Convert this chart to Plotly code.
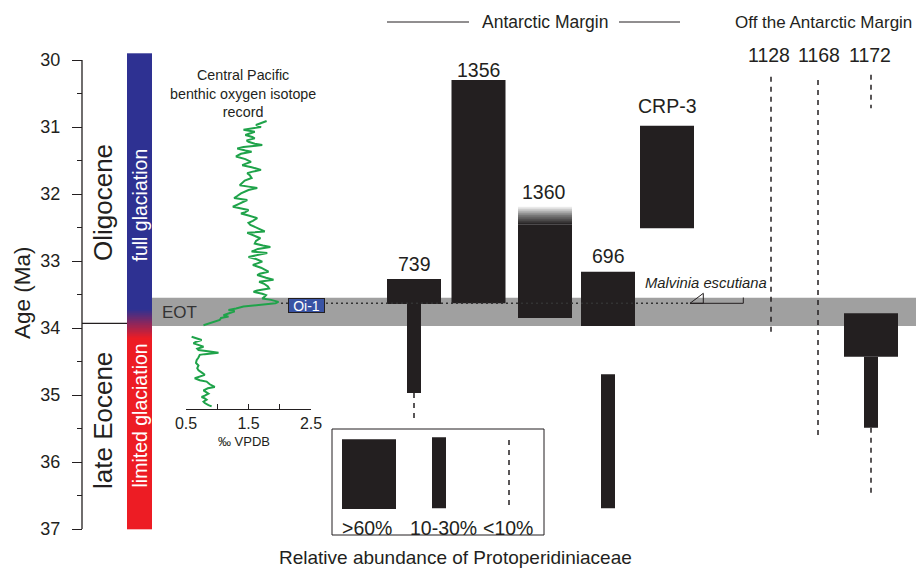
import numpy as np
import plotly.graph_objects as go

# ---------------- DATA ----------------
SITES = ["739", "1356", "1360", "696", "CRP-3", "1128", "1168", "1172"]

# >60% abundance intervals (site, top age, bottom age)
HIGH_SITE = ["739", "1356", "1360", "696", "CRP-3", "1172"]
HIGH_TOP = [33.27, 30.30, 32.46, 33.16, 30.98, 33.78]
HIGH_BOT = [33.64, 33.63, 33.85, 33.97, 32.51, 34.43]

# uncertain (fading) top of site 1360
FADE_SITE = "1360"
FADE_TOP = 32.19
FADE_BOT = 32.46

# 10-30% abundance intervals
MID_SITE = ["739", "696", "1172"]
MID_TOP = [33.64, 34.69, 34.43]
MID_BOT = [34.97, 36.69, 35.49]

# <10% abundance intervals
LOW_SITE = ["739", "1128", "1168", "1172", "1172"]
LOW_TOP = [34.97, 30.25, 30.30, 30.22, 35.49]
LOW_BOT = [35.40, 34.10, 35.60, 30.72, 36.52]

# Central Pacific benthic oxygen isotope record (age Ma, d18O permil VPDB)
ISO_AGE_OLIG = [30.91, 30.93, 30.95, 30.97, 31.00, 31.02, 31.04, 31.07, 31.10, 31.12,
                31.15, 31.17, 31.20, 31.22, 31.25, 31.27, 31.30, 31.32, 31.35, 31.37,
                31.40, 31.44, 31.48, 31.52, 31.55, 31.57, 31.60, 31.62, 31.64, 31.67,
                31.69, 31.72, 31.76, 31.80, 31.84, 31.87, 31.89, 31.91, 31.94, 31.97,
                31.99, 32.03, 32.06, 32.09, 32.12, 32.15, 32.19, 32.22, 32.24, 32.27,
                32.29, 32.32, 32.36, 32.40, 32.43, 32.46, 32.50, 32.53, 32.56, 32.58,
                32.62, 32.66, 32.70, 32.74, 32.77, 32.79, 32.82, 32.86, 32.88, 32.91,
                32.94, 32.97, 33.01, 33.04, 33.06, 33.10, 33.13, 33.16, 33.19, 33.21,
                33.25, 33.28, 33.31, 33.34, 33.38, 33.41, 33.44, 33.46, 33.49, 33.51,
                33.54, 33.56, 33.58, 33.61, 33.63, 33.64, 33.66, 33.68, 33.71, 33.73,
                33.75, 33.77, 33.79, 33.81, 33.83, 33.85, 33.88, 33.91, 33.94, 33.96]
ISO_VAL_OLIG = [1.79, 1.72, 1.68, 1.62, 1.70, 1.55, 1.42, 1.60, 1.50, 1.45,
                1.56, 1.60, 1.47, 1.50, 1.60, 1.72, 1.42, 1.32, 1.45, 1.55,
                1.38, 1.30, 1.45, 1.54, 1.45, 1.40, 1.55, 1.62, 1.70, 1.55,
                1.48, 1.52, 1.55, 1.44, 1.40, 1.36, 1.50, 1.64, 1.50, 1.42,
                1.38, 1.32, 1.27, 1.48, 1.40, 1.34, 1.25, 1.40, 1.50, 1.45,
                1.38, 1.50, 1.64, 1.57, 1.50, 1.53, 1.63, 1.70, 1.76, 1.48,
                1.60, 1.69, 1.62, 1.60, 1.73, 1.85, 1.65, 1.55, 1.80, 1.62,
                1.50, 1.62, 1.72, 1.63, 1.57, 1.70, 1.75, 1.82, 1.68, 1.64,
                1.78, 1.90, 1.67, 1.75, 1.81, 1.83, 1.64, 1.58, 1.72, 1.78,
                1.75, 1.72, 1.86, 1.98, 1.93, 1.80, 1.55, 1.42, 1.30, 1.18,
                1.28, 1.23, 1.15, 1.10, 1.18, 1.06, 1.04, 0.95, 0.85, 0.78]
ISO_AGE_EOC = [34.13, 34.16, 34.18, 34.21, 34.23, 34.26, 34.28, 34.31, 34.33, 34.35,
               34.37, 34.39, 34.40, 34.44, 34.48, 34.52, 34.56, 34.60, 34.63, 34.67,
               34.70, 34.75, 34.78, 34.80, 34.84, 34.88, 34.90, 34.93, 34.96, 34.98,
               35.01, 35.03, 35.05, 35.07, 35.10, 35.12, 35.15, 35.17]
ISO_VAL_EOC = [0.59, 0.70, 0.75, 0.65, 0.62, 0.72, 0.78, 0.68, 0.70, 0.88,
               1.02, 0.80, 0.72, 0.70, 0.67, 0.66, 0.70, 0.68, 0.70, 0.76,
               0.80, 0.64, 0.72, 0.83, 0.88, 0.96, 0.85, 0.78, 0.82, 0.86,
               0.80, 0.75, 0.80, 0.83, 0.78, 0.80, 0.86, 0.91]

AGE_TICKS = [30, 31, 32, 33, 34, 35, 36, 37]
ISO_TICKS = [0.5, 1.0, 1.5, 2.0, 2.5]
ISO_TICK_LABELS = ["0.5", "", "1.5", "", "2.5"]

EOT_TOP, EOT_BOT = 33.55, 33.97          # grey EOT band
EO_BOUNDARY = 33.93                      # Eocene / Oligocene boundary
OI1_AGE = 33.63                          # Oi-1 / Malvinia escutiana level
GLAC_FULL_END, GLAC_LIMITED_START = 33.72, 34.15
GLAC_TOP = 29.90

LEGEND_CLASSES = [">60%", "10-30%", "<10%"]
LEGEND_TOP = [35.66, 35.63, 35.67]
LEGEND_BOT = [36.70, 36.69, 36.69]

# ---------------- LAYOUT CONSTANTS ----------------
W, H = 916, 568
PX_TOP, PX_PER_MA = 60, 67.0


def A(py):
    """convert a vertical page pixel to age units of the y axis"""
    return 30 + (py - PX_TOP) / PX_PER_MA


SITE_X = {"739": 414, "1356": 478.5, "1360": 545, "696": 608, "CRP-3": 667,
          "1128": 771, "1168": 818, "1172": 871}
SITE_LABEL_X = {"739": 414, "1356": 478.5, "1360": 544, "696": 608, "CRP-3": 667,
                "1128": 769, "1168": 819, "1172": 870}
SITE_LABEL_PY = {"739": 264, "1356": 70, "1360": 192, "696": 256, "CRP-3": 106,
                 "1128": 55, "1168": 55, "1172": 55}
LEGEND_X = [369, 439, 509]
LEGEND_LABEL_X = [367, 443, 508]
WIDE, NARROW = 54, 14
INK = "#231f20"
FONT = "Liberation Sans, Arial, sans-serif"

fig = go.Figure()

# colour bar of glaciation state
edges = np.arange(GLAC_TOP, 37.0 + 1e-9, 0.01)
mids = (edges[:-1] + edges[1:]) / 2
span = 37.0 - GLAC_TOP
fig.add_trace(go.Heatmap(
    x=[127, 152], y=edges, z=[[m] for m in mids], zmin=GLAC_TOP, zmax=37.0,
    colorscale=[[0, "#2e3192"], [(GLAC_FULL_END - GLAC_TOP) / span, "#2e3192"],
                [(GLAC_LIMITED_START - GLAC_TOP) / span, "#ed1c24"], [1, "#ed1c24"]],
    showscale=False, hoverinfo="skip", xaxis="x", yaxis="y"))

# fading top of site 1360
fe = np.linspace(FADE_TOP, FADE_BOT, 28)
fx = SITE_X[FADE_SITE]
fig.add_trace(go.Heatmap(
    x=[fx - WIDE / 2, fx + WIDE / 2], y=fe, z=[[i] for i in range(len(fe) - 1)],
    colorscale=[[0, "#f2f2f2"], [0.5, "#777777"], [1, INK]],
    showscale=False, hoverinfo="skip", xaxis="x", yaxis="y"))

# Oi-1 dotted level line
fig.add_trace(go.Scatter(x=[281, 690], y=[OI1_AGE, OI1_AGE], mode="lines",
                         line=dict(color="#333333", width=1.5, dash="2px,3px"),
                         hoverinfo="skip", xaxis="x", yaxis="y"))

# bars
fig.add_trace(go.Bar(x=[SITE_X[s] for s in HIGH_SITE],
                     y=[b - t for t, b in zip(HIGH_TOP, HIGH_BOT)], base=HIGH_TOP,
                     width=WIDE, marker=dict(color=INK, line=dict(width=0)),
                     hoverinfo="skip", xaxis="x", yaxis="y"))
fig.add_trace(go.Bar(x=[SITE_X[s] for s in MID_SITE],
                     y=[b - t for t, b in zip(MID_TOP, MID_BOT)], base=MID_TOP,
                     width=NARROW, marker=dict(color=INK, line=dict(width=0)),
                     hoverinfo="skip", xaxis="x", yaxis="y"))
lx, ly = [], []
for s, t, b in zip(LOW_SITE, LOW_TOP, LOW_BOT):
    lx += [SITE_X[s], SITE_X[s], None]
    ly += [t, b, None]
fig.add_trace(go.Scatter(x=lx, y=ly, mode="lines",
                         line=dict(color=INK, width=1.5, dash="5px,5px"),
                         hoverinfo="skip", xaxis="x", yaxis="y"))

# legend samples
fig.add_trace(go.Bar(x=LEGEND_X[:2], y=[LEGEND_BOT[i] - LEGEND_TOP[i] for i in range(2)],
                     base=LEGEND_TOP[:2], width=[WIDE, NARROW],
                     marker=dict(color=INK, line=dict(width=0)),
                     hoverinfo="skip", xaxis="x", yaxis="y"))
fig.add_trace(go.Scatter(x=[LEGEND_X[2], LEGEND_X[2]], y=[LEGEND_TOP[2], LEGEND_BOT[2]],
                         mode="lines", line=dict(color=INK, width=1.5, dash="5px,5px"),
                         hoverinfo="skip", xaxis="x", yaxis="y"))

# isotope curve
fig.add_trace(go.Scatter(x=ISO_VAL_OLIG + [None] + ISO_VAL_EOC,
                         y=ISO_AGE_OLIG + [None] + ISO_AGE_EOC,
                         mode="lines", line=dict(color="#1fa34a", width=2),
                         connectgaps=False, hoverinfo="skip", xaxis="x2", yaxis="y"))

shapes = [
    dict(type="rect", xref="x", yref="y", x0=152, x1=916, y0=EOT_TOP, y1=EOT_BOT,
         fillcolor="#a0a0a0", line=dict(width=0), layer="below"),
    dict(type="line", xref="x", yref="y", x0=82, x1=82, y0=AGE_TICKS[0], y1=AGE_TICKS[-1],
         line=dict(color=INK, width=1.3)),
    dict(type="line", xref="x", yref="y", x0=82, x1=127, y0=EO_BOUNDARY, y1=EO_BOUNDARY,
         line=dict(color=INK, width=1.2)),
    # header rules
    dict(type="line", xref="x", yref="y", x0=387, x1=469, y0=A(22), y1=A(22),
         line=dict(color=INK, width=1)),
    dict(type="line", xref="x", yref="y", x0=619, x1=680, y0=A(22), y1=A(22),
         line=dict(color=INK, width=1)),
    # legend box
    dict(type="rect", xref="x", yref="y", x0=332, x1=544, y0=A(429), y1=A(535),
         line=dict(color=INK, width=1), fillcolor="rgba(0,0,0,0)"),
    # Malvinia escutiana marker
    dict(type="path", xref="x", yref="y",
         path=f"M 690 {A(303.3)} L 703.3 {A(293.3)} L 703.3 {A(303.3)} Z",
         line=dict(color=INK, width=1), fillcolor="rgba(0,0,0,0)"),
    dict(type="line", xref="x", yref="y", x0=690, x1=743.3, y0=A(303.3), y1=A(303.3),
         line=dict(color=INK, width=1)),
    dict(type="line", xref="x", yref="y", x0=743.3, x1=743.3, y0=A(297.5), y1=A(303.3),
         line=dict(color=INK, width=1)),
]

ann = []


def T(text, x, py, size, color=INK, angle=0, **kw):
    ann.append(dict(text=text, x=x, y=A(py), xref="x", yref="y", showarrow=False,
                    textangle=angle, font=dict(family=FONT, size=size, color=color), **kw))


T("Age (Ma)", 22, 293, 22.5, angle=-90)
T("Oligocene", 103, 203, 26, angle=-90)
T("late Eocene", 103, 421, 26, angle=-90)
T("full glaciation", 139.5, 205, 19.5, color="white", angle=-90)
T("limited glaciation", 139.5, 416, 19.5, color="white", angle=-90)
T("Central Pacific<br>benthic oxygen isotope<br>record", 243, 93, 14.3)
T("‰ VPDB", 244, 441, 13)
T("EOT", 179, 312, 17, color="#333333")
T("<i>Malvinia escutiana</i>", 706, 283, 14.8)
T("Antarctic Margin", 545, 22, 17.5)
T("Off the Antarctic Margin", 823, 22, 17)
for s in SITES:
    T(s, SITE_LABEL_X[s], SITE_LABEL_PY[s], 19.5)
for lab, x in zip(LEGEND_CLASSES, LEGEND_LABEL_X):
    T(lab, x, 528, 19.5)
T("Relative abundance of Protoperidiniaceae", 455, 557, 19)
ann.append(dict(text="Oi-1", x=306.5, y=A(305.5), xref="x", yref="y", showarrow=False,
                font=dict(family=FONT, size=14, color="white"), bgcolor="#3953a4",
                bordercolor=INK, borderwidth=1, borderpad=0, width=35, height=13))

fig.update_layout(
    width=W, height=H, margin=dict(l=0, r=0, t=0, b=0, autoexpand=False),
    paper_bgcolor="white", plot_bgcolor="rgba(0,0,0,0)",
    showlegend=False, barmode="overlay", shapes=shapes, annotations=ann,
    xaxis=dict(domain=[0, 1], range=[0, W], visible=False, fixedrange=True,
               automargin=False),
    yaxis=dict(domain=[0, 1], range=[A(H), A(0)], anchor="free", position=82 / W,
               automargin=False,
               tickvals=AGE_TICKS, ticks="outside", ticklen=10, tickwidth=1.2,
               tickcolor=INK, showline=False, showgrid=False, zeroline=False,
               tickfont=dict(family=FONT, size=18, color=INK), ticklabelstandoff=8,
               minor=dict(tickvals=[a + 0.5 for a in AGE_TICKS[:-1]], ticks="outside",
                          ticklen=5, tickwidth=1.2, tickcolor=INK, showgrid=False)),
    xaxis2=dict(domain=[186 / W, 311 / W], range=[0.5, 2.5], anchor="free",
                position=1 - 409 / H, showline=True, linecolor=INK, linewidth=1,
                automargin=False,
                tickvals=ISO_TICKS, ticktext=ISO_TICK_LABELS, ticks="inside",
                ticklen=5, tickwidth=1, tickcolor=INK, showgrid=False, zeroline=False,
                tickfont=dict(family=FONT, size=16, color=INK)),
)

fig.write_html("out.html", config={"responsive": False, "displayModeBar": False},
               post_script="document.body.style.margin='0px';"
                           "document.body.style.overflow='hidden';")
